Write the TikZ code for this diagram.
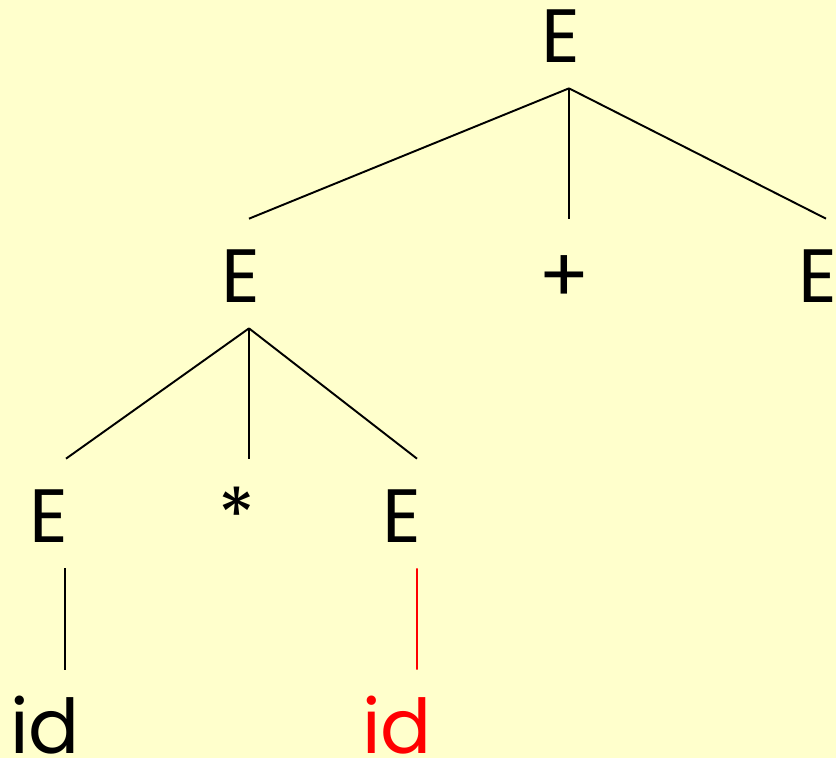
\documentclass[tikz,border=0pt]{standalone}
\usepackage{fontspec}
\setmainfont{Poppins}
\usepackage{xcolor}
\usepackage{tikz}
\usetikzlibrary{calc}
\definecolor{treebg}{RGB}{255,255,204}
\definecolor{treered}{RGB}{255,0,0}
\tikzset{
  sym/.style={inner sep=0pt,anchor=base,text height=1.06cm,text depth=0pt,
    font=\fontsize{43pt}{43pt}\selectfont},
  hot/.style={sym,text=treered},
  edge/.style={line width=1.1pt},
  hotedge/.style={edge,draw=treered}
}

\begin{document}
\begin{tikzpicture}[x=0.02cm,y=-0.02cm]
  % Background
  \fill[treebg] (0,0) rectangle (836,758);
  \useasboundingbox (0,0) rectangle (836,758);

  % Root
  \node[sym] (e0) at (561,62) {E};
  % Second level
  \node[sym] (e1) at (241,302) {E};
  \node[sym] (plus) at (564,302) {+};
  \node[sym] (e2) at (818,302) {E};
  % Third level
  \node[sym] (e3) at (49,542) {E};
  \node[sym] (star) at (237,542) {*};
  \node[sym] (e4) at (402,542) {E};
  % Leaves
  \node[sym] (id1) at (45,753) {id};
  \node[hot] (id2) at (397,753) {id};

  % Edges (small offsets so lines meet the glyphs as drawn)
  \foreach \a/\b/\da/\db in {e0/e1/8/8,e0/plus/8/5,e0/e2/8/8,
                             e1/e3/8/17,e1/star/8/12,e1/e4/8/15,
                             e3/id1/16/20}
    \draw[edge] ([xshift=\da*0.02cm,yshift=-0.52cm]\a.south)
      -- ([xshift=\db*0.02cm,yshift=0.6cm]\b.north);
  \draw[hotedge] ([xshift=0.3cm,yshift=-0.52cm]e4.south)
    -- ([xshift=0.4cm,yshift=0.6cm]id2.north);
\end{tikzpicture}
\end{document}
